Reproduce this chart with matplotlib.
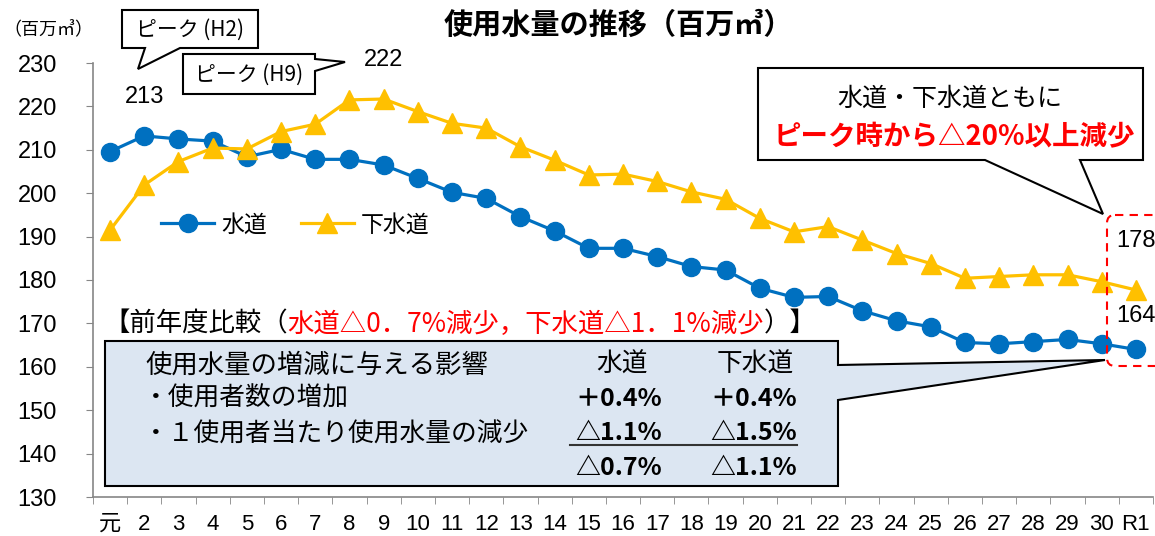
import matplotlib.pyplot as plt
from matplotlib.patches import Polygon, FancyBboxPatch
from matplotlib.lines import Line2D
from matplotlib.transforms import Affine2D

plt.rcParams['font.family'] = ['Noto Sans CJK JP', 'DejaVu Sans']
NUM_FONT = ['Liberation Sans Narrow', 'Liberation Sans', 'Noto Sans CJK JP']

# 年度（平成元年度～令和元年度）
years = ['元', '2', '3', '4', '5', '6', '7', '8', '9', '10',
         '11', '12', '13', '14', '15', '16', '17', '18', '19', '20',
         '21', '22', '23', '24', '25', '26', '27', '28', '29', '30', 'R1']

# 使用水量（百万m3）
water = [209.6, 213.2, 212.5, 212.0, 208.4, 210.1, 207.8, 207.8, 206.5, 203.4,
         200.2, 198.8, 194.6, 191.3, 187.3, 187.3, 185.4, 183.1, 182.3, 178.1,
         176.0, 176.2, 172.9, 170.6, 169.2, 165.6, 165.3, 165.8, 166.3, 165.3, 164.0]
sewer = [191.5, 201.9, 207.3, 210.4, 210.2, 214.2, 215.9, 221.5, 221.7, 218.8,
         216.1, 215.0, 210.7, 207.6, 204.2, 204.4, 202.7, 200.3, 198.6, 194.2,
         191.1, 192.3, 189.2, 186.1, 183.8, 180.4, 180.8, 181.2, 181.2, 179.6, 177.7]

# 前年度比較の表
table_head = ['使用水量の増減に与える影響', '水道', '下水道']
table_rows = [
    ('・使用者数の増加', '＋0.4%', '＋0.4%'),
    ('・１使用者当たり使用水量の減少', '△1.1%', '△1.5%'),
    ('', '△0.7%', '△1.1%'),
]

W, H = 1155, 536
fig = plt.figure(figsize=(W / 100, H / 100), dpi=100)
ax = fig.add_axes([93 / W, 39 / H, 1060 / W, 434 / H])
T = Affine2D().scale(1, -1).translate(0, H)  # pixel coords, origin top-left

x = list(range(len(years)))
ax.plot(x, water, color='#0070C0', lw=2.3, marker='o', ms=13, label='水道')
ax.plot(x, sewer, color='#FFC000', lw=2.3, marker='^', ms=14, label='下水道')

ax.set_xlim(-0.5, len(years) - 0.5)
ax.set_ylim(130, 230)
ax.set_yticks(range(130, 231, 10))
ax.set_xticks(x)
ax.set_xticklabels(years)
ax.set_xticks([i - 0.5 for i in range(len(years) + 1)], minor=True)
for s in ['top', 'right']:
    ax.spines[s].set_visible(False)
for s in ['left', 'bottom']:
    ax.spines[s].set_color('#868686')
    ax.spines[s].set_linewidth(1.2)
ax.tick_params(axis='y', length=5, color='#868686', pad=21, labelsize=17)
ax.tick_params(axis='x', which='major', length=0, pad=12, labelsize=16)
ax.tick_params(axis='x', which='minor', length=5, color='#868686')
for lbl in ax.get_xticklabels() + ax.get_yticklabels():
    lbl.set_fontfamily(NUM_FONT)

ax.legend(loc='center left', bbox_to_anchor=(0.045, 0.627), ncol=2, frameon=False,
          fontsize=16.5, handlelength=2.3, columnspacing=1.5, handletextpad=0.3)

# data labels
for i, vals, dy in [(1, water, 39), (8, sewer, 39), (30, sewer, 49), (30, water, 33)]:
    ax.annotate(f'{vals[i]:.0f}', xy=(i, vals[i]), xytext=(0, dy), textcoords='offset pixels',
                ha='center', va='center', fontsize=17, fontfamily=NUM_FONT, annotation_clip=False)


def shape(pts, fc='white'):
    fig.add_artist(Polygon(pts, closed=True, transform=T, facecolor=fc,
                           edgecolor='black', lw=1.5, zorder=5))


def txt(px, py, s, **kw):
    kw.setdefault('ha', 'center')
    kw.setdefault('va', 'center')
    return fig.text(px, py, s, transform=T, zorder=6, **kw)


# title
txt(618, 25, '使用水量の推移（百万㎥）', fontsize=21, fontweight='bold')
txt(48, 30, '（百万㎥）', fontsize=13)

# peak callouts
shape([(122, 10), (258, 10), (258, 48), (180, 48), (138, 69), (145, 48), (122, 48)])
txt(190, 30, 'ピーク (H2)', fontsize=15)
shape([(183, 54), (315, 54), (315, 59), (345, 62), (315, 71), (315, 94), (183, 94)])
txt(249, 75, 'ピーク (H9)', fontsize=15)

# right callout
shape([(758, 68), (1143, 68), (1143, 160), (1080, 160), (1103, 214), (985, 160), (758, 160)])
txt(950, 99, '水道・下水道ともに', fontsize=18)
txt(954, 137, 'ピーク時から△20%以上減少', fontsize=19.8, fontweight='bold', color='red')
fig.add_artist(FancyBboxPatch((1107, 215), 60, 151, boxstyle='round,pad=0,rounding_size=8',
                              transform=T, facecolor='none', edgecolor='red', lw=1.5,
                              linestyle=(0, (4, 3)), zorder=5))

# 前年度比較
t1 = txt(103, 324, '【前年度比較（', fontsize=19, ha='left')
t2 = ax.annotate('水道△0．7%減少，下水道△1．1%減少', xy=(1, 0.5), xycoords=t1,
                 ha='left', va='center', fontsize=19, color='red')
ax.annotate('）】', xy=(1, 0.5), xycoords=t2, ha='left', va='center', fontsize=19)

# table box
shape([(105, 341), (838, 341), (838, 365), (1105, 360), (838, 400), (838, 486), (105, 486)],
      fc='#DCE6F2')
txt(145, 365, table_head[0], fontsize=19, ha='left')
txt(622, 365, table_head[1], fontsize=18.5)
txt(755, 365, table_head[2], fontsize=18.5)
for r, (label, v1, v2) in enumerate(table_rows):
    yy = 399 + r * 34.5
    txt(143, yy, label, fontsize=18.5, ha='left')
    txt(662, yy, v1, fontsize=18, fontweight='bold', ha='right')
    txt(797, yy, v2, fontsize=18, fontweight='bold', ha='right')
fig.add_artist(Line2D([570, 797], [445, 445], transform=T, color='#333333', lw=1.5, zorder=6))

fig.savefig('out.png', dpi=100)
